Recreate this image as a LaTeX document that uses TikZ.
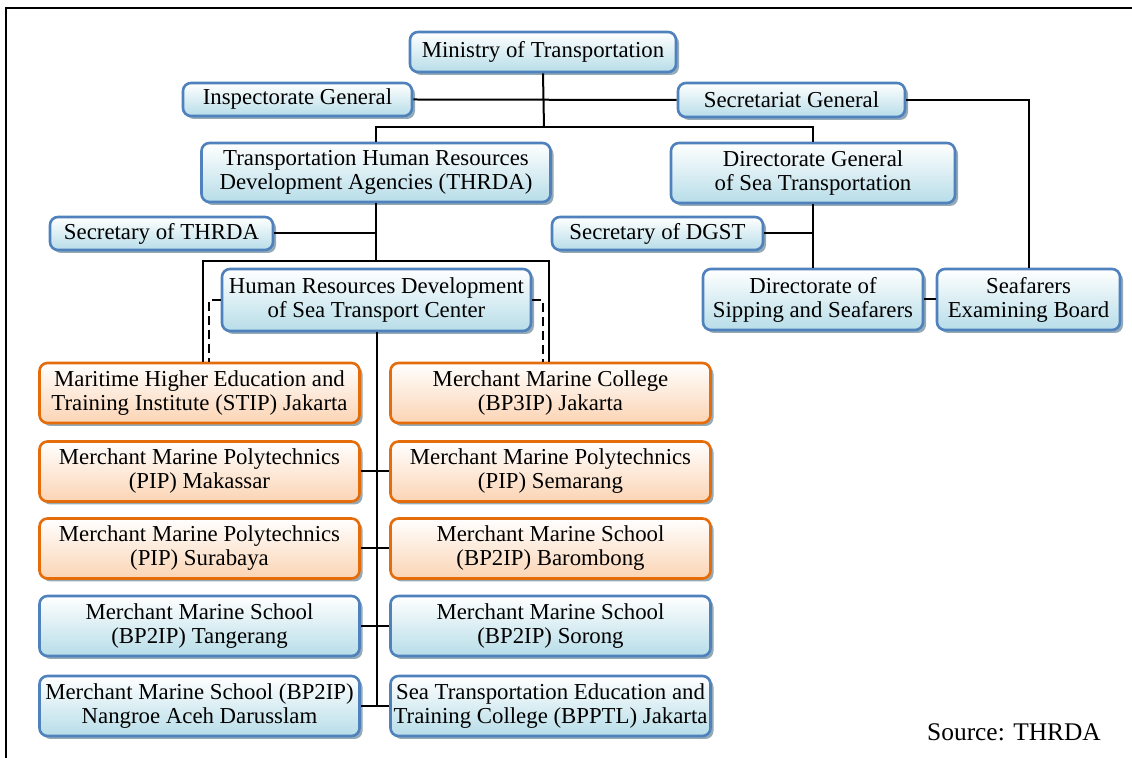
\documentclass[tikz,border=0pt]{standalone}
\usepackage{fontspec}
\setmainfont{Liberation Serif}
\usetikzlibrary{shadows, calc}

\definecolor{boxblue}{HTML}{4F81BD}
\definecolor{fillblue}{HTML}{B7DDE8}
\definecolor{boxorange}{HTML}{E46C0A}
\definecolor{fillorange}{HTML}{FBD4B4}
\definecolor{shadowgrey}{HTML}{94AAB6}

\begin{document}
\begin{tikzpicture}[x=0.5pt, y=-0.5pt,
  wh/.style 2 args={minimum width=#1*0.5pt, minimum height=#2*0.5pt},
  unit/.style={draw=boxblue, line width=1.3pt, rounded corners=4pt,
    top color=white, bottom color=fillblue, align=center, inner sep=0pt,
    font=\rmfamily\fontsize{11.4}{12}\selectfont,
    drop shadow={shadow xshift=1.5pt, shadow yshift=-1.5pt, fill=shadowgrey, opacity=1}},
  school/.style={unit, draw=boxorange, bottom color=fillorange},
  link/.style={line width=1pt},
  dashlink/.style={line width=1pt, dash pattern=on 4.5pt off 2.5pt}]

\useasboundingbox (0,0) rectangle (1132,758);

% frame
\draw[line width=1pt] (6,758) -- (6,8) -- (1132,8);

% ministry level
\node[unit, wh={266}{40}] (min) at (543,52) {Ministry of Transportation};
\node[unit, wh={229}{33}] (insp) at (297.5,99.5) {Inspectorate General};
\node[unit, wh={227}{34}] (secg) at (791.5,100) {Secretariat General};

% agencies
\node[unit, wh={349}{59}] (thrda) at (376,172.5) {Transportation Human Resources\\Development Agencies (THRDA)};
\node[unit, wh={284}{60}] (dgst) at (813,173) {Directorate General\\of Sea Transportation};
\node[unit, wh={223}{33}] (secthrda) at (161.5,233.5) {Secretary of THRDA};
\node[unit, wh={211}{33}] (secdgst) at (657.5,233.5) {Secretary of DGST};
\node[unit, wh={309}{62}] (hrd) at (376.5,300) {Human Resources Development\\of Sea Transport Center};
\node[unit, wh={220}{61}] (dss) at (813,299.5) {Directorate of\\Sipping and Seafarers};
\node[unit, wh={183}{61}] (seb) at (1028.5,299.5) {Seafarers\\Examining Board};

% schools
\node[school, wh={320}{60}] (r1l) at (199.5,393) {Maritime Higher Education and\\Training Institute (STIP) Jakarta};
\node[school, wh={320}{60}] (r1r) at (550.5,393) {Merchant Marine College\\(BP3IP) Jakarta};
\node[school, wh={320}{60}] (r2l) at (199.5,471.5) {Merchant Marine Polytechnics\\(PIP) Makassar};
\node[school, wh={320}{60}] (r2r) at (550.5,471.5) {Merchant Marine Polytechnics\\(PIP) Semarang};
\node[school, wh={320}{60}] (r3l) at (199.5,548.5) {Merchant Marine Polytechnics\\(PIP) Surabaya};
\node[school, wh={320}{60}] (r3r) at (550.5,548.5) {Merchant Marine School\\(BP2IP) Barombong};
\node[unit, wh={320}{60}] (r4l) at (199.5,626) {Merchant Marine School\\(BP2IP) Tangerang};
\node[unit, wh={320}{60}] (r4r) at (550.5,626) {Merchant Marine School\\(BP2IP) Sorong};
\node[unit, wh={320}{60}] (r5l) at (199.5,706) {Merchant Marine School (BP2IP)\\Nangroe Aceh Darusslam};
\node[unit, wh={320}{60}] (r5r) at (550.5,706) {Sea Transportation Education and\\Training College (BPPTL) Jakarta};

% top links
\coordinate (jmin) at (544,127);
\draw[link] (min.south) -- (jmin);
\draw[link] (insp.east) -- (secg.west);
\draw[link] (thrda.north) |- (jmin) -| (dgst.north);
\draw[link] (secg.east) -| (seb.north);

% THRDA links
\coordinate (jthrda) at (376,261);
\coordinate (bl) at (203,261);
\coordinate (br) at (549,261);
\draw[link] (thrda.south) -- (jthrda);
\draw[link] (secthrda.east) -- (secthrda.east -| jthrda);
\draw[link] (bl |- r1l.north) -- (bl) -- (br) -- (br |- r1r.north);
\draw[dashlink] (hrd.west) -| ($(bl |- r1l.north)+(6,0)$);
\draw[dashlink] (hrd.east) -| ($(br |- r1r.north)+(-6,0)$);

% DGST links
\draw[link] (dgst.south) -- (dss.north);
\draw[link] (secdgst.east) -- (secdgst.east -| dgst.south);
\draw[link] (dss.east) -- (seb.west);

% school links
\draw[link] (hrd.south) -- (hrd.south |- r5l.east);
\draw[link] (r2l.east) -- (r2r.west);
\draw[link] (r3l.east) -- (r3r.west);
\draw[link] (r4l.east) -- (r4r.west);
\draw[link] (r5l.east) -- (r5r.west);

\node[font=\fontsize{12.7}{14}\selectfont] (src) at (1014,732) {Source: THRDA};
\end{tikzpicture}
\end{document}
